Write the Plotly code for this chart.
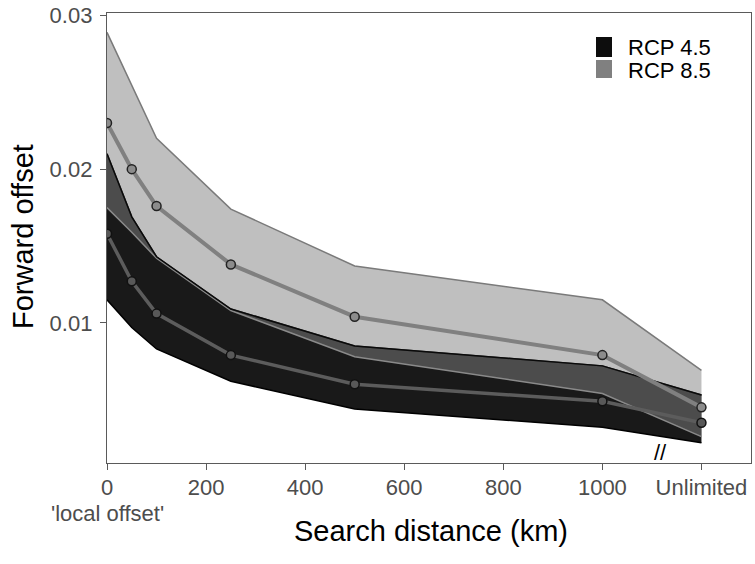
import plotly.graph_objects as go

# ---- data ----
distance = [0, 50, 100, 250, 500, 1000, 1200]  # 1200 = "Unlimited"
rcp45_mean = [0.0158, 0.0127, 0.0106, 0.0079, 0.0060, 0.0049, 0.0035]
rcp45_lower = [0.0115, 0.0097, 0.0083, 0.0062, 0.0044, 0.0032, 0.0022]
rcp45_upper = [0.0210, 0.0169, 0.0143, 0.0109, 0.0085, 0.0072, 0.0053]
rcp85_mean = [0.0230, 0.0200, 0.0176, 0.0138, 0.0104, 0.0079, 0.0045]
rcp85_lower = [0.0175, 0.0159, 0.0142, 0.0108, 0.0078, 0.0054, 0.0026]
rcp85_upper = [0.0289, 0.0254, 0.0220, 0.0174, 0.0137, 0.0115, 0.0069]

x_tickvals = [0, 200, 400, 600, 800, 1000, 1200]
x_ticktext = ["0", "200", "400", "600", "800", "1000", "Unlimited"]
x_sublabel = "'local offset'"
y_tickvals = [0.01, 0.02, 0.03]
y_ticktext = ["0.01", "0.02", "0.03"]
legend_labels = ["RCP 4.5", "RCP 8.5"]
legend_colors = ["#0d0d0d", "#808080"]

FONT = "Liberation Sans, Arial, sans-serif"

fig = go.Figure()

# RCP 4.5 ribbon
fig.add_trace(go.Scatter(x=distance, y=rcp45_lower, mode="lines",
                         line=dict(color="black", width=1.5), showlegend=False, hoverinfo="skip"))
fig.add_trace(go.Scatter(x=distance, y=rcp45_upper, mode="lines", fill="tonexty",
                         fillcolor="rgba(0,0,0,0.9)",
                         line=dict(color="black", width=1.5), showlegend=False, hoverinfo="skip"))
# RCP 8.5 ribbon
fig.add_trace(go.Scatter(x=distance, y=rcp85_lower, mode="lines",
                         line=dict(color="#8a8a8a", width=1.5), showlegend=False, hoverinfo="skip"))
fig.add_trace(go.Scatter(x=distance, y=rcp85_upper, mode="lines", fill="tonexty",
                         fillcolor="rgba(128,128,128,0.5)",
                         line=dict(color="#7a7a7a", width=1.5), showlegend=False, hoverinfo="skip"))
# redraw RCP 4.5 upper edge on top
fig.add_trace(go.Scatter(x=distance, y=rcp45_upper, mode="lines",
                         line=dict(color="#0a0a0a", width=1.5), showlegend=False, hoverinfo="skip"))

# mean lines with points
fig.add_trace(go.Scatter(x=distance, y=rcp45_mean, mode="lines+markers",
                         line=dict(color="#5c5c5c", width=3.5),
                         marker=dict(size=9, color="#585858", line=dict(color="#111111", width=1.5)),
                         showlegend=False))
fig.add_trace(go.Scatter(x=distance, y=rcp85_mean, mode="lines+markers",
                         line=dict(color="#808080", width=4),
                         marker=dict(size=9, color="#8c8c8c", line=dict(color="#222222", width=1.5)),
                         showlegend=False))

# ---- layout geometry (pixels) ----
W, H = 755, 564
L, R, T, B = 107, 4, 13, 101
pw, ph = W - L - R, H - T - B

def px(xp):
    return (xp - L) / pw

def py(yp):
    return (H - B - yp) / ph

annotations = []
shapes = []
# legend drawn manually
leg_rows = [(37, 57), (60, 78)]
for (y0, y1), lab, col in zip(leg_rows, legend_labels, legend_colors):
    shapes.append(dict(type="rect", xref="paper", yref="paper",
                       x0=px(596), x1=px(612), y0=py(y1), y1=py(y0),
                       fillcolor=col, line=dict(width=0)))
    annotations.append(dict(text=lab, xref="paper", yref="paper",
                            x=px(626), y=py((y0 + y1) / 2 + 1), xanchor="left", yanchor="middle",
                            showarrow=False, font=dict(family=FONT, size=22, color="black")))

# sub-label under the 0 tick
annotations.append(dict(text=x_sublabel, xref="x", yref="paper", x=x_tickvals[0], y=py(513),
                        xanchor="center", yanchor="middle", showarrow=False,
                        font=dict(family=FONT, size=22, color="#4d4d4d")))

# axis break mark
annotations.append(dict(text="//", xref="x", yref="paper", x=1118, y=0, yanchor="bottom",
                        xanchor="center", showarrow=False,
                        font=dict(family=FONT, size=22, color="black"), yshift=-4))

# axis titles
annotations.append(dict(text="Search distance (km)", xref="paper", yref="paper",
                        x=px(431), y=py(531), xanchor="center", yanchor="middle",
                        showarrow=False, font=dict(family=FONT, size=29, color="black")))
annotations.append(dict(text="Forward offset", xref="paper", yref="paper",
                        x=px(23), y=py(237), xanchor="center", yanchor="middle", textangle=-90,
                        showarrow=False, font=dict(family=FONT, size=29, color="black")))

axis_common = dict(showline=True, linecolor="#5a5a5a", linewidth=1.3, mirror=True,
                   showgrid=False, zeroline=False, ticks="outside", ticklen=6,
                   tickcolor="#5a5a5a", tickwidth=1.3,
                   tickfont=dict(family=FONT, size=22, color="#4d4d4d"))

fig.update_layout(
    width=W, height=H,
    margin=dict(l=L, r=R, t=T, b=B, pad=0, autoexpand=False),
    plot_bgcolor="white", paper_bgcolor="white",
    showlegend=False,
    xaxis=dict(range=[0, 1300], tickvals=x_tickvals, ticktext=x_ticktext,
               automargin=False, ticklabelstandoff=-2, **axis_common),
    yaxis=dict(range=[0.00088, 0.03016], tickvals=y_tickvals, ticktext=y_ticktext,
               automargin=False, ticklabelstandoff=3, **axis_common),
    annotations=annotations,
    shapes=shapes,
    font=dict(family=FONT),
)

fig.write_html("out.html", config={"displayModeBar": False},
               post_script="document.body.style.margin='0';document.body.style.padding='0';")
